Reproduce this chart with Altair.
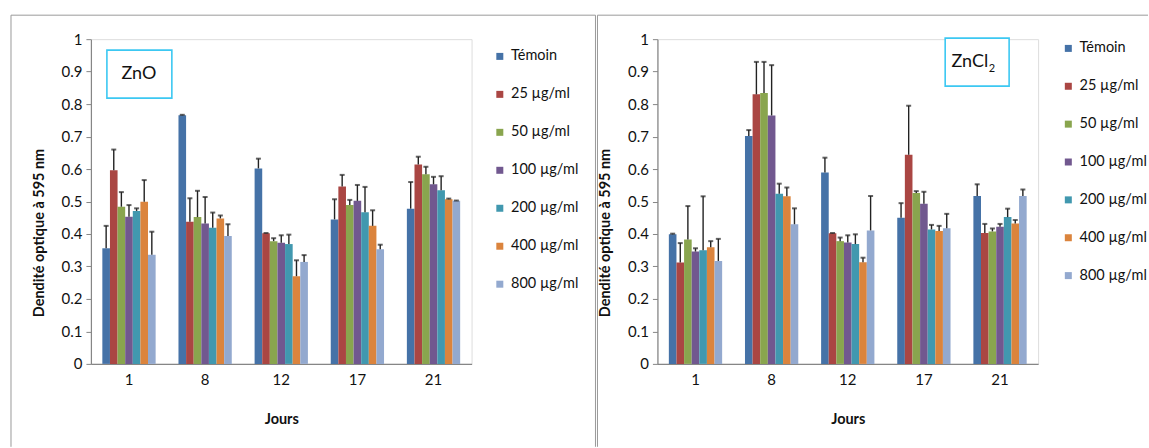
import altair as alt
import pandas as pd

FONT = "Lato"

DAYS = ["1", "8", "12", "17", "21"]
SERIES = ["Témoin", "25 µg/ml", "50 µg/ml", "100 µg/ml", "200 µg/ml", "400 µg/ml", "800 µg/ml"]
COLORS = ["#4572A7", "#AA4643", "#89A54E", "#71588F", "#4198AF", "#DB843D", "#93A9CF"]
Y_TICKS = [0, 0.1, 0.2, 0.3, 0.4, 0.5, 0.6, 0.7, 0.8, 0.9, 1]
Y_TITLE = "Dendité optique à 595 nm"
X_TITLE = "Jours"

# ZnO panel: mean values per series (days 1, 8, 12, 17, 21)
ZNO_TEMOIN = [0.356, 0.766, 0.602, 0.445, 0.478]
ZNO_25 = [0.596, 0.438, 0.402, 0.546, 0.614]
ZNO_50 = [0.484, 0.452, 0.378, 0.489, 0.584]
ZNO_100 = [0.453, 0.432, 0.373, 0.502, 0.553]
ZNO_200 = [0.471, 0.419, 0.369, 0.467, 0.535]
ZNO_400 = [0.499, 0.448, 0.270, 0.425, 0.507]
ZNO_800 = [0.336, 0.394, 0.314, 0.353, 0.502]
# ZnO panel: standard errors
ZNO_TEMOIN_ERR = [0.069, 0.001, 0.030, 0.062, 0.082]
ZNO_25_ERR = [0.064, 0.072, 0.001, 0.036, 0.024]
ZNO_50_ERR = [0.045, 0.081, 0.009, 0.016, 0.023]
ZNO_100_ERR = [0.036, 0.082, 0.023, 0.049, 0.023]
ZNO_200_ERR = [0.008, 0.047, 0.029, 0.078, 0.043]
ZNO_400_ERR = [0.067, 0.009, 0.049, 0.048, 0.002]
ZNO_800_ERR = [0.071, 0.036, 0.021, 0.014, 0.001]

# ZnCl2 panel: mean values
ZNCL_TEMOIN = [0.399, 0.702, 0.589, 0.450, 0.517]
ZNCL_25 = [0.312, 0.830, 0.402, 0.644, 0.403]
ZNCL_50 = [0.383, 0.834, 0.378, 0.526, 0.408]
ZNCL_100 = [0.346, 0.765, 0.374, 0.493, 0.422]
ZNCL_200 = [0.350, 0.524, 0.369, 0.414, 0.452]
ZNCL_400 = [0.359, 0.516, 0.313, 0.409, 0.432]
ZNCL_800 = [0.317, 0.430, 0.411, 0.418, 0.517]
# ZnCl2 panel: standard errors
ZNCL_TEMOIN_ERR = [0.002, 0.018, 0.046, 0.045, 0.036]
ZNCL_25_ERR = [0.060, 0.100, 0.001, 0.151, 0.028]
ZNCL_50_ERR = [0.103, 0.096, 0.011, 0.006, 0.009]
ZNCL_100_ERR = [0.010, 0.155, 0.022, 0.037, 0.009]
ZNCL_200_ERR = [0.166, 0.031, 0.030, 0.014, 0.026]
ZNCL_400_ERR = [0.019, 0.027, 0.014, 0.016, 0.011]
ZNCL_800_ERR = [0.068, 0.049, 0.106, 0.044, 0.020]

ZNO_MEANS = [ZNO_TEMOIN, ZNO_25, ZNO_50, ZNO_100, ZNO_200, ZNO_400, ZNO_800]
ZNO_ERRS = [ZNO_TEMOIN_ERR, ZNO_25_ERR, ZNO_50_ERR, ZNO_100_ERR, ZNO_200_ERR, ZNO_400_ERR, ZNO_800_ERR]
ZNCL_MEANS = [ZNCL_TEMOIN, ZNCL_25, ZNCL_50, ZNCL_100, ZNCL_200, ZNCL_400, ZNCL_800]
ZNCL_ERRS = [ZNCL_TEMOIN_ERR, ZNCL_25_ERR, ZNCL_50_ERR, ZNCL_100_ERR, ZNCL_200_ERR, ZNCL_400_ERR, ZNCL_800_ERR]

W, H = 381, 325
AXIS_GRAY = "#868686"
TXT = "#111111"
BOX = "#3CC8F2"
FRAME = "#9a9a9a"


def table(means, errs):
    rows = []
    for s, m, e in zip(SERIES, means, errs):
        for d, v, ev in zip(DAYS, m, e):
            rows.append({"day": d, "serie": s, "val": v, "top": v + ev})
    return pd.DataFrame(rows)


def one():
    return alt.Chart(pd.DataFrame({"k": [0]}))


X_AXIS = alt.Axis(labelAngle=0, ticks=False, domainColor=AXIS_GRAY, domainWidth=1.2,
                  labelFont=FONT, labelFontSize=15, labelColor=TXT, labelPadding=9,
                  titleFont=FONT, titleFontSize=14.5, titleFontWeight="bold", titleColor=TXT,
                  titleY=49, titleBaseline="top")
Y_AXIS = alt.Axis(values=Y_TICKS, format="~g", grid=False, labelOverlap=False,
                  domainColor=AXIS_GRAY, domainWidth=1.2, tickColor=AXIS_GRAY, tickSize=5,
                  labelPadding=4, labelFont=FONT, labelFontSize=15, labelColor=TXT, title=None)
X_SCALE = alt.Scale(paddingInner=0.3, paddingOuter=0.15)
Y_SCALE = alt.Scale(domain=[0, 1], nice=False)


def panel(means, errs, legend_x, legend_y, row_pad, frame_left, frame_right, label_marks):
    df = table(means, errs)
    base = alt.Chart(df)
    x = alt.X("day:N", sort=DAYS, title=X_TITLE, scale=X_SCALE, axis=X_AXIS)
    xo = alt.XOffset("serie:N", sort=SERIES, scale=alt.Scale(paddingInner=0, paddingOuter=0))
    y = alt.Y("val:Q", scale=Y_SCALE, axis=Y_AXIS)
    ytop = alt.Y("top:Q", scale=Y_SCALE, axis=Y_AXIS)
    bars = base.mark_bar().encode(
        x=x, xOffset=xo, y=y,
        color=alt.Color("serie:N", sort=SERIES, scale=alt.Scale(domain=SERIES, range=COLORS),
                        legend=alt.Legend(orient="none", legendX=legend_x, legendY=legend_y, title=None,
                                          symbolType="square", symbolSize=49, symbolStrokeWidth=0,
                                          labelFont=FONT, labelFontSize=14.5, labelColor=TXT,
                                          rowPadding=row_pad, padding=0, labelOffset=4)),
    )
    err = base.mark_rule(color="#222222", strokeWidth=1.4).encode(x=x, xOffset=xo, y=y, y2="top:Q")
    cap = base.mark_tick(color="#222222", thickness=2, size=5, orient="horizontal").encode(
        x=x, xOffset=xo, y=ytop)

    ytitle = one().mark_text(text=Y_TITLE, font=FONT, fontSize=14.5, fontWeight="bold", color=TXT,
                             angle=270, align="center", baseline="middle").encode(
        x=alt.value(-51), y=alt.value(194))

    frame_top = one().mark_rule(color=FRAME, strokeWidth=1).encode(
        x=alt.value(frame_left), x2=alt.value(frame_right), y=alt.value(-24))
    frame_l = one().mark_rule(color=FRAME, strokeWidth=1).encode(
        x=alt.value(frame_left), y=alt.value(-24), y2=alt.value(408))
    layers = [frame_top, frame_l]
    if frame_right > 500:
        frame_r = one().mark_rule(color=FRAME, strokeWidth=1).encode(
            x=alt.value(frame_right), y=alt.value(-24), y2=alt.value(408))
        layers.append(frame_r)
    return alt.layer(*layers, bars, err, cap, ytitle, *label_marks).properties(width=W, height=H)


# ZnO label box
zno_box = one().mark_rect(fill="white", stroke=BOX, strokeWidth=1.6).encode(
    x=alt.value(16), x2=alt.value(81), y=alt.value(11), y2=alt.value(59))
zno_txt = one().mark_text(text="ZnO", font=FONT, fontSize=18, color=TXT).encode(
    x=alt.value(48), y=alt.value(35))

# ZnCl2 label box
zncl_box = one().mark_rect(fill="white", stroke=BOX, strokeWidth=1.6).encode(
    x=alt.value(288), x2=alt.value(352), y=alt.value(-1), y2=alt.value(47))
zncl_txt = one().mark_text(text="ZnCl", font=FONT, fontSize=18, color=TXT, align="right").encode(
    x=alt.value(331), y=alt.value(23))
zncl_sub = one().mark_text(text="2", font=FONT, fontSize=11, color=TXT, align="left").encode(
    x=alt.value(331.5), y=alt.value(30))

left = panel(ZNO_MEANS, ZNO_ERRS, 402, 10, 23, -80, 505, [zno_box, zno_txt])
right = panel(ZNCL_MEANS, ZNCL_ERRS, 404, 2, 22.9, -60, 491, [zncl_box, zncl_txt, zncl_sub])

chart = alt.hconcat(left, right, spacing=0).resolve_legend(color="independent").properties(
    padding={"left": 10, "top": 14, "right": 0, "bottom": 0}
).configure_view(strokeWidth=0).configure(font=FONT, background="white")

chart.save("out.html", embed_options={"renderer": "svg", "actions": False})
